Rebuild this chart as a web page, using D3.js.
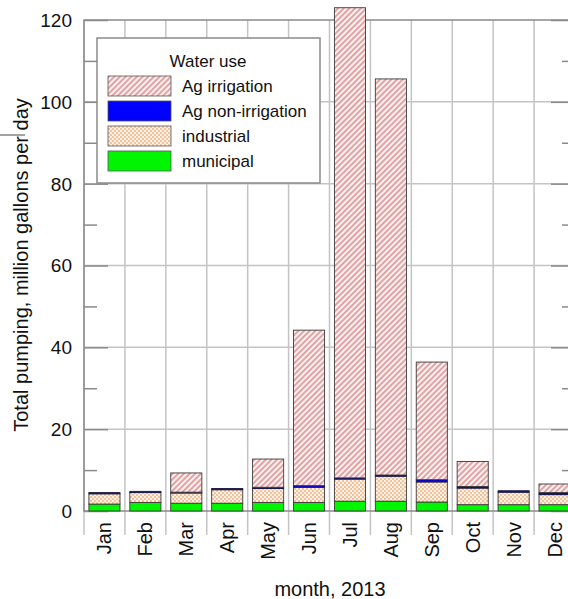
<!DOCTYPE html>
<html>
<head>
<meta charset="utf-8">
<script src="https://cdn.jsdelivr.net/npm/d3@7"></script>
<style>
  html, body { margin: 0; padding: 0; background: #fff; }
  svg { display: block; font-family: "Liberation Sans", Arial, sans-serif; }
</style>
</head>
<body>
<svg id="chart" width="568" height="599"></svg>
<script>
// Monthly pumping by water use, million gallons per day
const months = ["Jan", "Feb", "Mar", "Apr", "May", "Jun", "Jul", "Aug", "Sep", "Oct", "Nov", "Dec"];
const municipal     = [1.7, 2.1, 1.9, 1.9, 2.1, 2.1, 2.4, 2.4, 2.2, 1.55, 1.55, 1.55];
const industrial    = [2.5, 2.4, 2.5, 3.3, 3.4, 3.7, 5.4, 6.1, 4.9, 4.05, 3.05, 2.45];
const agNonIrr      = [0.3, 0.3, 0.2, 0.3, 0.3, 0.4, 0.3, 0.3, 0.55, 0.4, 0.35, 0.5];
const agIrrigation  = [0.0, 0.0, 4.7, 0.0, 6.9, 38.0, 114.9, 96.8, 28.75, 6.1, 0.0, 2.1];
const yTicks = [0, 20, 40, 60, 80, 100, 120];
const yMinorTicks = [10, 30, 50, 70, 90, 110];

const seriesKeys = ["municipal", "industrial", "agNonIrr", "agIrrigation"];
const seriesLabels = {
  agIrrigation: "Ag irrigation",
  agNonIrr: "Ag non-irrigation",
  industrial: "industrial",
  municipal: "municipal"
};
const legendOrder = ["agIrrigation", "agNonIrr", "industrial", "municipal"];

const rows = months.map((m, i) => ({
  month: m,
  municipal: municipal[i],
  industrial: industrial[i],
  agNonIrr: agNonIrr[i],
  agIrrigation: agIrrigation[i]
}));

const svg = d3.select("#chart");
const plotLeft = 84, plotRight = 575, plotTop = 20, plotBottom = 511;

const x = d3.scaleBand().domain(months).range([plotLeft, plotRight]).paddingInner(0.24).paddingOuter(0.12);
const y = d3.scaleLinear().domain([0, 120]).range([plotBottom, plotTop]);

// fill patterns
const defs = svg.append("defs");
const hatch = defs.append("pattern")
  .attr("id", "hatch").attr("patternUnits", "userSpaceOnUse")
  .attr("width", 4).attr("height", 4)
  .attr("patternTransform", "rotate(45)");
hatch.append("rect").attr("width", 4).attr("height", 4).attr("fill", "#fcf0f0");
hatch.append("rect").attr("width", 1.8).attr("height", 4).attr("fill", "#de9c9c");

const dots = defs.append("pattern")
  .attr("id", "dots").attr("patternUnits", "userSpaceOnUse")
  .attr("width", 4).attr("height", 4);
dots.append("rect").attr("width", 4).attr("height", 4).attr("fill", "#f2c29c");
dots.append("rect").attr("x", 0).attr("y", 0).attr("width", 2).attr("height", 2).attr("fill", "#fdf1e6");
dots.append("rect").attr("x", 2).attr("y", 2).attr("width", 2).attr("height", 2).attr("fill", "#fdf1e6");

const fills = {
  agIrrigation: "url(#hatch)",
  agNonIrr: "#0000ff",
  industrial: "url(#dots)",
  municipal: "#00f500"
};

// grid: vertical lines at month boundaries, horizontal at major ticks
const boundaries = months.map(m => x(m) - x.step() * x.paddingInner() / 2).concat([plotRight]);
svg.append("g").selectAll("line").data(boundaries).join("line")
  .attr("x1", d => d).attr("x2", d => d)
  .attr("y1", plotTop).attr("y2", plotBottom + 24)
  .attr("stroke", "#c4c4c4").attr("stroke-width", 1.5);
svg.append("g").selectAll("line").data(yTicks.slice(1, -1)).join("line")
  .attr("x1", plotLeft).attr("x2", plotRight)
  .attr("y1", d => y(d)).attr("y2", d => y(d))
  .attr("stroke", "#c4c4c4").attr("stroke-width", 1.5);

// tick marks on both vertical frame edges
function tickAxis(axis, pos) {
  const g = svg.append("g").attr("transform", `translate(${pos},0)`).call(axis);
  g.select(".domain").remove();
  g.selectAll(".tick line").attr("stroke", "#8a8a8a").attr("stroke-width", 1.5);
  g.selectAll("text").remove();
  return g;
}
tickAxis(d3.axisRight(y).tickValues(yTicks).tickSize(24), plotLeft);
tickAxis(d3.axisRight(y).tickValues(yMinorTicks).tickSize(13), plotLeft);
tickAxis(d3.axisLeft(y).tickValues(yTicks).tickSize(24), plotRight);
tickAxis(d3.axisLeft(y).tickValues(yMinorTicks).tickSize(13), plotRight);

// frame
svg.append("path")
  .attr("d", `M${plotLeft},${plotBottom}V${plotTop}H${plotRight}V${plotBottom}Z`)
  .attr("fill", "none").attr("stroke", "#8a8a8a").attr("stroke-width", 1.5);

// stacked bars
const stacked = d3.stack().keys(seriesKeys)(rows);
svg.append("g").selectAll("g").data(stacked).join("g")
  .attr("fill", d => fills[d.key])
  .selectAll("rect").data(d => d.filter(s => s[1] - s[0] > 0)).join("rect")
  .attr("x", d => x(d.data.month))
  .attr("width", x.bandwidth())
  .attr("y", d => y(d[1]))
  .attr("height", d => y(d[0]) - y(d[1]))
  .attr("stroke", d => d[1] - d[0] < 1 ? "#1a1a40" : "#3a3a3a")
  .attr("stroke-width", 0.9);

// y tick labels
svg.append("g").selectAll("text").data(yTicks).join("text")
  .attr("x", 72).attr("y", d => y(d)).attr("dy", "0.36em")
  .attr("text-anchor", "end").attr("font-size", 19).attr("fill", "#111")
  .text(d => d);

// month labels, rotated
svg.append("g").selectAll("text").data(months).join("text")
  .attr("transform", d => `translate(${x(d) + x.bandwidth() / 2 + 7},522) rotate(-90)`)
  .attr("text-anchor", "end").attr("font-size", 20).attr("fill", "#111")
  .text(d => d);

// axis titles
svg.append("text")
  .attr("x", 330).attr("y", 596)
  .attr("text-anchor", "middle").attr("font-size", 20).attr("fill", "#111")
  .text("month, 2013");
svg.append("text")
  .attr("transform", "translate(28,265) rotate(-90)")
  .attr("text-anchor", "middle").attr("font-size", 20).attr("fill", "#111")
  .text("Total pumping, million gallons per day");

// small stray rule at the left margin
svg.append("line")
  .attr("x1", 0).attr("x2", 25).attr("y1", 135).attr("y2", 135)
  .attr("stroke", "#666").attr("stroke-width", 1.2);

// legend
const legend = svg.append("g").attr("transform", "translate(97,38)");
legend.append("rect").attr("width", 223).attr("height", 145)
  .attr("fill", "#fff").attr("stroke", "#8a8a8a").attr("stroke-width", 1.5);
legend.append("text").attr("x", 111).attr("y", 29)
  .attr("text-anchor", "middle").attr("font-size", 17).attr("fill", "#111")
  .text("Water use");
const items = legend.selectAll("g.item").data(legendOrder).join("g")
  .attr("class", "item")
  .attr("transform", (d, i) => `translate(11,${38 + i * 25})`);
items.append("rect").attr("width", 63).attr("height", 20)
  .attr("fill", d => fills[d]).attr("stroke", "#555").attr("stroke-width", 0.8);
items.append("text").attr("x", 74).attr("y", 10).attr("dy", "0.36em")
  .attr("font-size", 17).attr("fill", "#111")
  .text(d => seriesLabels[d]);
</script>
</body>
</html>
